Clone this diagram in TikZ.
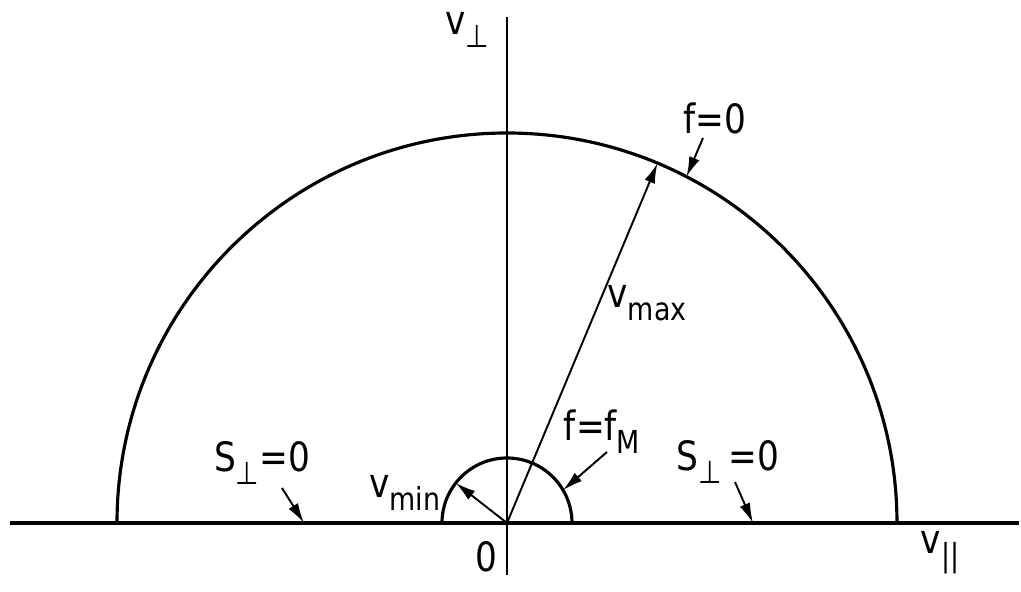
\documentclass[tikz,border=0pt]{standalone}
\usepackage{fontspec}
\setmainfont{DejaVu Sans}[FakeStretch=0.85]
\usetikzlibrary{arrows.meta}
\newcommand{\dn}[1]{\raisebox{-0.6ex}{\fontsize{9}{10}\selectfont #1}}

\begin{document}
\begin{tikzpicture}[x=1cm, y=1cm,
  curve/.style={line width=0.9pt},
  ptr/.style={line width=0.55pt, -{Latex[length=2mm, width=1.1mm]}},
  every node/.style={font=\fontsize{11.5}{13}\selectfont, inner sep=1pt}]
\useasboundingbox (-5.07,-0.69) rectangle (5.14,5.23);
\coordinate (O) at (0,0);
\coordinate (xl) at (-4.97,0);
\coordinate (xr) at (5.12,0);
\coordinate (yb) at (0,-0.52);
\coordinate (yt) at (0,5.06);
\draw[curve] (xl) -- (xr);
\draw[line width=0.45pt] (yb) -- (yt);
\draw[curve] (3.9,0) arc (0:180:3.9);
\draw[curve] (0.65,0) arc (0:180:0.65);
\node (vperp) at (-0.40,4.93) {v\dn{⊥}};
\node (vpar) at (4.33,-0.30) {v\dn{||}};
\node (zero) at (-0.21,-0.34) {0};
\node (vmax) at (1.40,2.20) {v\dn{max}};
\node (vmin) at (-1.02,0.30) {v\dn{min}};
\node (f0) at (2.08,4.05) {f=0};
\node (fM) at (0.95,0.91) {f=f\dn{M}};
\node (sl) at (-2.45,0.60) {S\dn{⊥}=0};
\node (sr) at (2.21,0.61) {S\dn{⊥}\,=0};
\coordinate (maxend) at (67.3:3.9);
\coordinate (minend) at (142:0.65);
\coordinate (f0a) at (1.96,3.85);
\coordinate (f0b) at (62.6:3.9);
\coordinate (fMa) at (1.00,0.71);
\coordinate (fMb) at (30.4:0.65);
\coordinate (sla) at (-2.25,0.35);
\coordinate (slb) at (-2.03,0);
\coordinate (sra) at (2.28,0.41);
\coordinate (srb) at (2.46,0);
\draw[ptr] (O) -- (maxend);
\draw[ptr] (O) -- (minend);
\draw[ptr] (f0a) -- (f0b);
\draw[ptr] (fMa) -- (fMb);
\draw[ptr] (sla) -- (slb);
\draw[ptr] (sra) -- (srb);
\end{tikzpicture}
\end{document}
